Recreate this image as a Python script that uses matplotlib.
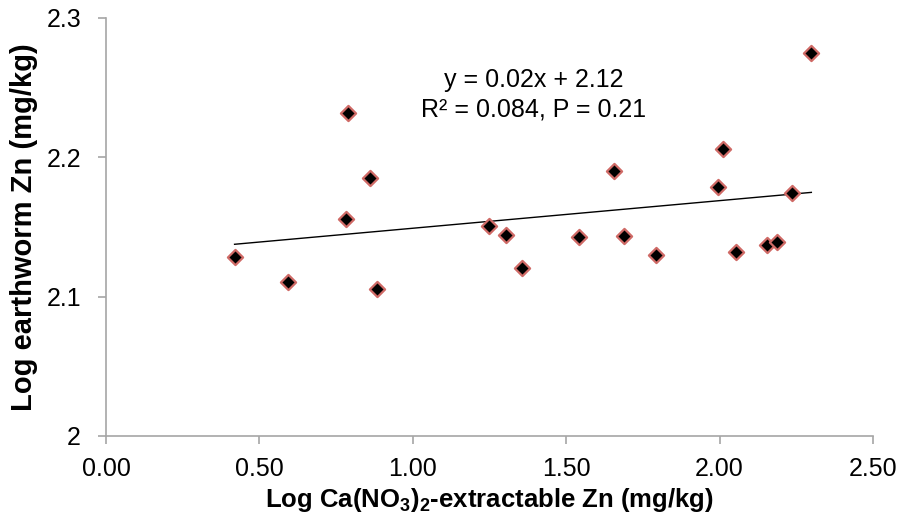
import matplotlib.pyplot as plt
import numpy as np

# data
log_ca_zn = [0.419, 0.593, 0.788, 0.781, 0.861, 0.882, 1.249, 1.305, 1.355, 1.543,
             1.656, 1.689, 1.794, 1.994, 2.011, 2.052, 2.155, 2.187, 2.236, 2.299]
log_worm_zn = [2.1286, 2.1105, 2.2316, 2.1554, 2.1849, 2.1055, 2.1506, 2.1442, 2.1205, 2.1425,
               2.1903, 2.1435, 2.1298, 2.1784, 2.2061, 2.1318, 2.1368, 2.1392, 2.1745, 2.2748]
trend_slope = 0.0198
trend_intercept = 2.1292

x_ticks = [0.0, 0.5, 1.0, 1.5, 2.0, 2.5]
y_ticks = [2.0, 2.1, 2.2, 2.3]
y_ticklabels = ['2', '2.1', '2.2', '2.3']

plt.rcParams['font.family'] = ['Liberation Sans', 'DejaVu Sans']
plt.rcParams['mathtext.fontset'] = 'custom'
plt.rcParams['mathtext.rm'] = 'Liberation Sans:bold'
plt.rcParams['mathtext.it'] = 'Liberation Sans:bold'
plt.rcParams['mathtext.bf'] = 'Liberation Sans:bold'

fig = plt.figure(figsize=(9.03, 5.27), dpi=100)
ax = fig.add_axes([0.1174, 0.1727, 0.8494, 0.7937])

ax.scatter(log_ca_zn, log_worm_zn, marker='D', s=60, color='black',
           edgecolors='#cf6a66', linewidths=1.6, zorder=3)

xl = np.array([min(log_ca_zn), max(log_ca_zn)])
ax.plot(xl, trend_slope * xl + trend_intercept, color='black', lw=1.0, zorder=2)

ax.text(1.395, 2.2446, 'y = 0.02x + 2.12\nR\u00b2 = 0.084, P = 0.21', ha='center', va='center',
        fontsize=18, linespacing=1.3)

ax.set_xlim(0, 2.5)
ax.set_ylim(2.0, 2.3)
ax.set_xticks(x_ticks)
ax.set_xticklabels(['%.2f' % t for t in x_ticks])
ax.set_yticks(y_ticks)
ax.set_yticklabels(y_ticklabels)

for s in ['top', 'right']:
    ax.spines[s].set_visible(False)
for s in ['left', 'bottom']:
    ax.spines[s].set_color('#a6a6a6')
    ax.spines[s].set_linewidth(1.2)
ax.tick_params(direction='out', length=6, width=1.2, color='#a6a6a6', labelsize=18)
ax.tick_params(axis='x', pad=9)
ax.tick_params(axis='y', pad=12)

ax.set_xlabel('Log Ca(NO$_3$)$_2$-extractable Zn (mg/kg)', fontsize=18.5, fontweight='bold', labelpad=4)
ax.set_ylabel('Log earthworm Zn (mg/kg)', fontsize=21, fontweight='bold', labelpad=6)

fig.savefig('out.png', dpi=100)
